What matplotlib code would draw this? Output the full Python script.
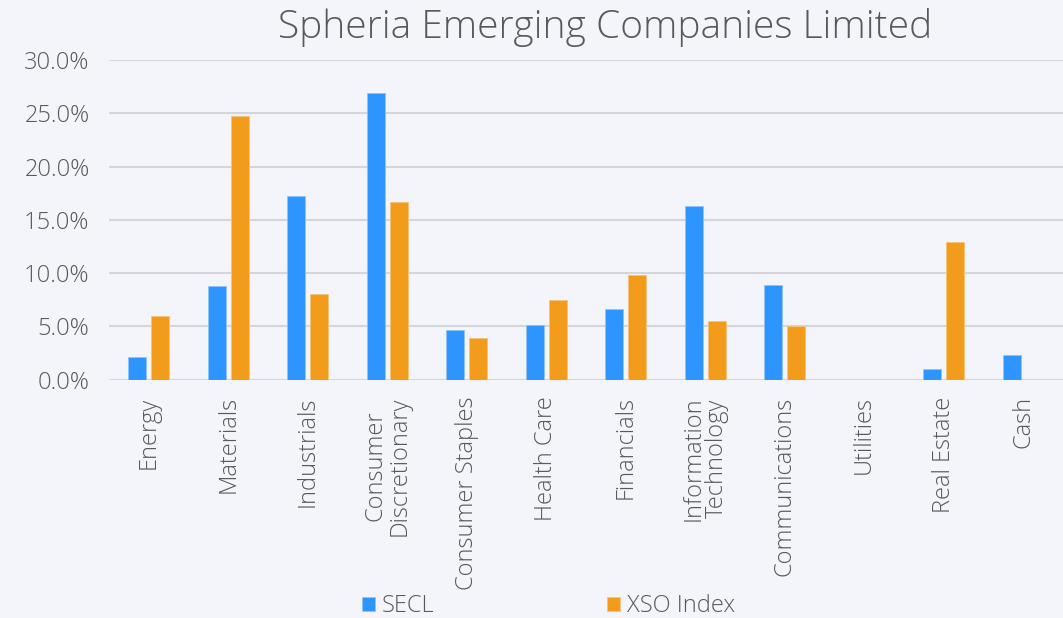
import matplotlib.pyplot as plt
import numpy as np
from matplotlib.ticker import FuncFormatter

categories = ["Energy", "Materials", "Industrials", "Consumer\nDiscretionary",
              "Consumer Staples", "Health Care", "Financials", "Information\nTechnology",
              "Communications", "Utilities", "Real Estate", "Cash"]
secl = [2.1, 8.8, 17.2, 26.9, 4.7, 5.1, 6.6, 16.3, 8.9, 0.0, 1.0, 2.3]
xso = [6.0, 24.7, 8.0, 16.7, 3.9, 7.5, 9.8, 5.5, 5.0, 0.0, 12.9, 0.0]
series_names = ["SECL", "XSO Index"]

plt.rcParams['font.family'] = ['Open Sans', 'DejaVu Sans']
plt.rcParams['font.weight'] = 'light'
bg = '#F4F5FA'
text_color = '#595959'

fig = plt.figure(figsize=(10.63, 6.18), dpi=100, facecolor=bg)
ax = fig.add_axes([0.1025, 0.3856, 0.8975, 0.5174], facecolor=bg)

x = np.arange(len(categories))
w = 0.23
b1 = ax.bar(x - 0.145, secl, w, color='#2E95FE', edgecolor='#8EC4FA', linewidth=0.6, label=series_names[0], zorder=3)
b2 = ax.bar(x + 0.145, xso, w, color='#F39C1C', edgecolor='#F6C47A', linewidth=0.6, label=series_names[1], zorder=3)

ax.set_xlim(-0.5, len(categories) - 0.5)
ax.set_ylim(0, 30)
ax.set_yticks(np.arange(0, 31, 5))
ax.yaxis.set_major_formatter(FuncFormatter(lambda v, p: f"{v:.1f}%"))
ax.grid(axis='y', color='#D5D6DA', linewidth=1.5, zorder=0)
for s in ax.spines.values():
    s.set_visible(False)
ax.tick_params(length=0, labelsize=17, labelcolor=text_color)
ax.tick_params(axis='y', pad=14)
ax.set_xticks(x)
ax.set_xticklabels(categories, rotation=90, va='top', ha='center', linespacing=1.0)
ax.tick_params(axis='x', pad=12)

fig.text(0.569, 0.955, "Spheria Emerging Companies Limited", ha='center', va='center',
         fontsize=28, color=text_color)

fig.legend(handles=[b1, b2], loc='center', bbox_to_anchor=(0.516, 0.019), ncol=2,
           frameon=False, fontsize=17, handlelength=0.55, handleheight=0.55,
           handletextpad=0.3, columnspacing=7.3, labelcolor=text_color)

fig.savefig("out.png", dpi=100, facecolor=bg)
